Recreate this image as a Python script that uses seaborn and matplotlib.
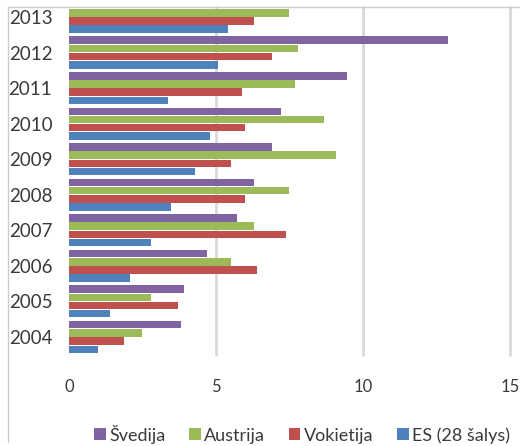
import numpy as np
import pandas as pd
import seaborn as sns
import matplotlib.pyplot as plt
from matplotlib.lines import Line2D

years = ['2013', '2012', '2011', '2010', '2009', '2008', '2007', '2006', '2005', '2004']
svedija = [np.nan, 12.9, 9.46, 7.2, 6.9, 6.3, 5.7, 4.7, 3.9, 3.8]
austrija = [7.48, 7.78, 7.69, 8.68, 9.08, 7.48, 6.29, 5.5, 2.79, 2.49]
vokietija = [6.29, 6.9, 5.9, 6.0, 5.5, 6.0, 7.38, 6.39, 3.71, 1.88]
es28 = [5.4, 5.08, 3.38, 4.8, 4.3, 3.48, 2.79, 2.07, 1.38, 1.0]

series = ['Švedija', 'Austrija', 'Vokietija', 'ES (28 šalys)']
colors = ['#8064A2', '#9BBB59', '#C0504D', '#4F81BD']

df = pd.DataFrame({'year': years, series[0]: svedija, series[1]: austrija,
                   series[2]: vokietija, series[3]: es28})
df = df.melt(id_vars='year', var_name='series', value_name='value')

sns.set_style('white')
plt.rcParams['font.family'] = ['Lato', 'DejaVu Sans']
text_color = '#3a3a3a'

W, H = 520, 446
fig = plt.figure(figsize=(W / 100, H / 100), dpi=100)
ax = fig.add_axes([69 / W, 91 / H, 441 / W, 348 / H])

sns.barplot(data=df, x='value', y='year', hue='series', order=years,
            hue_order=series, palette=colors, orient='h', width=0.92, gap=0.08,
            saturation=1, linewidth=0, ax=ax, zorder=3)

ax.set_xlim(0, 15)
ax.set_ylim(9.506, -0.28)
ax.set_xticks([0, 5, 10, 15])
for xv in [5, 10, 15]:
    ax.axvline(xv, color='#d9d9d9', lw=2, zorder=1, clip_on=False)

sns.despine(ax=ax, left=True, bottom=True)
ax.set_xlabel('')
ax.set_ylabel('')
ax.tick_params(axis='y', length=0, pad=12, labelsize=13.5, labelcolor=text_color)
ax.tick_params(axis='x', length=0, pad=17, labelsize=12, labelcolor=text_color)

ax.legend(loc='center', bbox_to_anchor=(302 / W, 12 / H), bbox_transform=fig.transFigure,
          ncol=4, frameon=False, fontsize=13, handlelength=0.65, handleheight=0.65,
          handletextpad=0.2, columnspacing=1.3, labelcolor=text_color)

fig.add_artist(Line2D([8 / W, 8 / W], [1 - 7 / H, 1 - 442 / H], color='#cccccc', lw=1))
fig.add_artist(Line2D([8 / W, 1], [1 - 7 / H, 1 - 7 / H], color='#cccccc', lw=1))

fig.savefig('out.png', dpi=100)
